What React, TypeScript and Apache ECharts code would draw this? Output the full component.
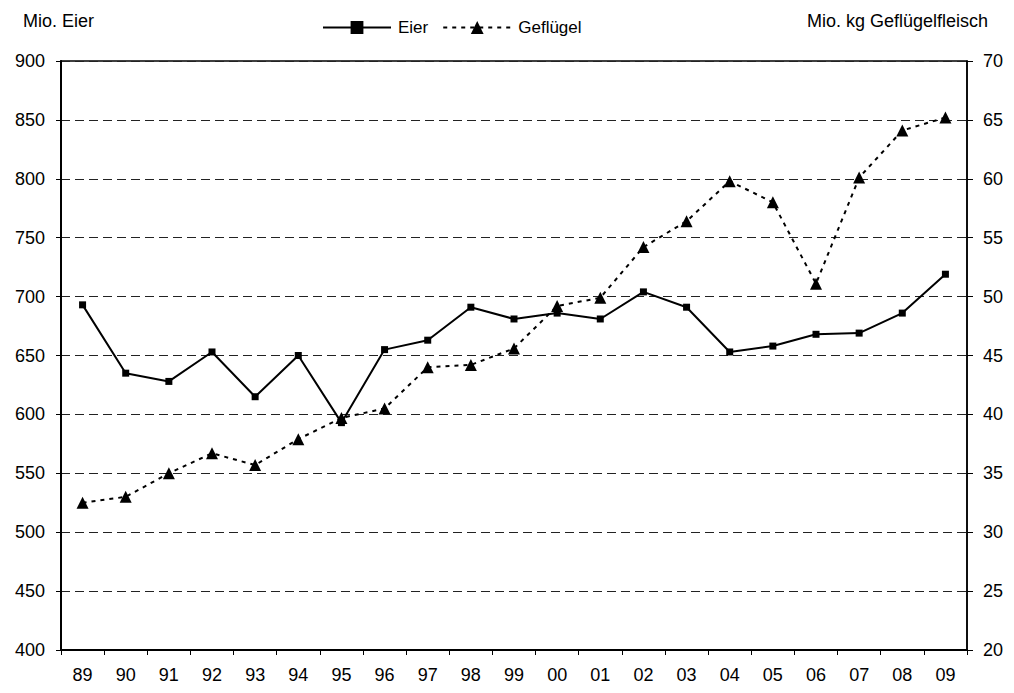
import React, { useEffect, useRef } from "react";
import * as echarts from "echarts";

const categories = ["89","90","91","92","93","94","95","96","97","98","99","00","01","02","03","04","05","06","07","08","09"];
const eier = [693,635,628,653,615,650,593,655,663,691,681,686,681,704,691,653,658,668,669,686,719];
const gefluegel = [32.5,33.0,35.0,36.7,35.7,37.9,39.7,40.5,44.0,44.2,45.6,49.2,49.9,54.2,56.4,59.8,58.0,51.1,60.1,64.1,65.2];
const leftTitle = "Mio. Eier";
const rightTitle = "Mio. kg Geflügelfleisch";

const FONT = "'Liberation Sans', Arial, sans-serif";

export default function App() {
  const ref = useRef<HTMLDivElement>(null);
  useEffect(() => {
    document.body.style.margin = "0";
    const chart = echarts.init(ref.current!, null, { renderer: "svg" });
    chart.setOption({
      animation: false,
      backgroundColor: "#fff",
      textStyle: { fontFamily: FONT, color: "#000" },
      grid: { left: 61, right: 47, top: 61, bottom: 43, show: true, borderColor: "#000", borderWidth: 1.5 },
      legend: {
        left: 317,
        top: 14,
        itemWidth: 68,
        itemHeight: 16,
        itemGap: 14,
        textStyle: { fontFamily: FONT, fontSize: 17, color: "#000", padding: [0, 0, 0, 2] },
        data: ["Eier", "Geflügel"],
      },
      graphic: [
        { type: "text", left: 23, top: 12, style: { text: leftTitle, font: `18px ${FONT}`, fill: "#000" } },
        { type: "text", right: 26, top: 12, style: { text: rightTitle, font: `18px ${FONT}`, fill: "#000" } },
      ],
      xAxis: {
        type: "category",
        data: categories,
        boundaryGap: true,
        axisLine: { lineStyle: { color: "#000", width: 2 } },
        axisTick: { show: true, length: 5, lineStyle: { color: "#000" } },
        axisLabel: { fontSize: 18, color: "#000", margin: 16, fontFamily: FONT },
      },
      yAxis: [
        {
          type: "value",
          min: 400,
          max: 900,
          interval: 50,
          axisLine: { show: true, lineStyle: { color: "#000", width: 2 } },
          axisTick: { show: true, length: 5, lineStyle: { color: "#000" } },
          axisLabel: { fontSize: 18, color: "#000", margin: 16, fontFamily: FONT },
          splitLine: { show: true, lineStyle: { color: "#222", width: 1, type: [9, 5] } },
        },
        {
          type: "value",
          min: 20,
          max: 70,
          interval: 5,
          position: "right",
          axisLine: { show: true, lineStyle: { color: "#000", width: 1.5 } },
          axisTick: { show: true, length: 6, lineStyle: { color: "#000" } },
          axisLabel: { fontSize: 18, color: "#000", margin: 16, fontFamily: FONT },
          splitLine: { show: false },
        },
      ],
      series: [
        {
          name: "Eier",
          type: "line",
          yAxisIndex: 0,
          data: eier,
          symbol: "rect",
          symbolSize: 7,
          itemStyle: { color: "#000" },
          lineStyle: { color: "#000", width: 2 },
        },
        {
          name: "Geflügel",
          type: "line",
          yAxisIndex: 1,
          data: gefluegel,
          symbol: "triangle",
          symbolSize: 12,
          itemStyle: { color: "#000" },
          lineStyle: { color: "#000", width: 2, type: [4, 5] },
        },
      ],
    });
    return () => chart.dispose();
  }, []);
  return <div ref={ref} style={{ width: 1014, height: 693 }} />;
}
